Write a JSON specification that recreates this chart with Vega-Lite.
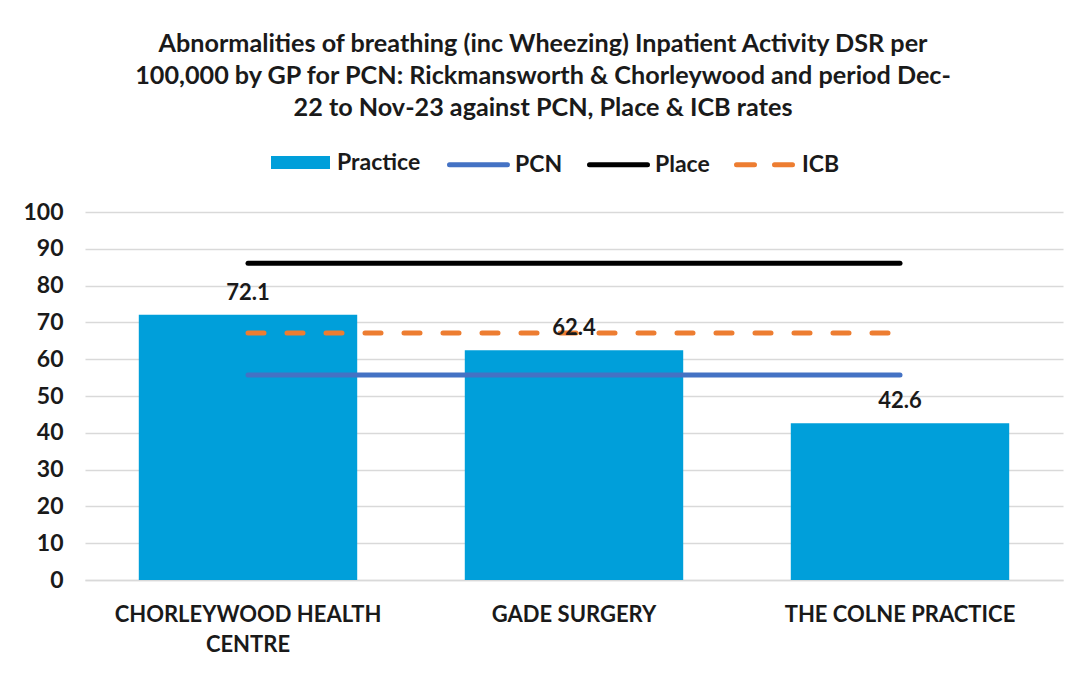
{
  "$schema": "https://vega.github.io/schema/vega-lite/v6.json",
  "autosize": "none",
  "width": 978,
  "height": 368,
  "padding": {"left": 85, "top": 212, "right": 26, "bottom": 94},
  "background": "white",
  "title": {
    "text": ["Abnormalities of breathing (inc Wheezing) Inpatient Activity DSR per", "100,000 by GP for PCN: Rickmansworth & Chorleywood and period Dec-", "22 to Nov-23 against PCN, Place & ICB rates"],
    "font": "Lato",
    "fontSize": 25.2,
    "fontWeight": "bold",
    "color": "#1a1a1a",
    "lineHeight": 32,
    "anchor": "middle",
    "frame": "group",
    "dx": -31,
    "offset": 12
  },
  "data": {
    "values": [
      {"practice": "CHORLEYWOOD HEALTH CENTRE", "series": "Practice", "value": 72.1},
      {"practice": "GADE SURGERY", "series": "Practice", "value": 62.4},
      {"practice": "THE COLNE PRACTICE", "series": "Practice", "value": 42.6},
      {"practice": "CHORLEYWOOD HEALTH CENTRE", "series": "PCN", "value": 55.7},
      {"practice": "GADE SURGERY", "series": "PCN", "value": 55.7},
      {"practice": "THE COLNE PRACTICE", "series": "PCN", "value": 55.7},
      {"practice": "CHORLEYWOOD HEALTH CENTRE", "series": "Place", "value": 86.1},
      {"practice": "GADE SURGERY", "series": "Place", "value": 86.1},
      {"practice": "THE COLNE PRACTICE", "series": "Place", "value": 86.1},
      {"practice": "CHORLEYWOOD HEALTH CENTRE", "series": "ICB", "value": 67.1},
      {"practice": "GADE SURGERY", "series": "ICB", "value": 67.1},
      {"practice": "THE COLNE PRACTICE", "series": "ICB", "value": 67.1}
    ]
  },
  "config": {
    "view": {"stroke": null},
    "font": "Lato",
    "axis": {"labelFont": "Lato", "labelFontWeight": "bold", "labelFontSize": 22, "labelColor": "#1a1a1a", "labelLimit": 400}
  },
  "encoding": {
    "x": {
      "field": "practice", "type": "nominal", "sort": null,
      "scale": {"paddingInner": 0.33, "paddingOuter": 0.165},
      "axis": {
        "title": null, "labelAngle": 0, "ticks": false, "domainColor": "#D9D9D9", "domainWidth": 1.5,
        "labelPadding": 24, "labelLineHeight": 30, "labelBaseline": "top",
        "labelExpr": "datum.label == 'CHORLEYWOOD HEALTH CENTRE' ? ['CHORLEYWOOD HEALTH', 'CENTRE'] : datum.label"
      }
    },
    "y": {
      "field": "value", "type": "quantitative",
      "scale": {"domain": [0, 100]},
      "axis": {"title": null, "values": [0, 10, 20, 30, 40, 50, 60, 70, 80, 90, 100], "ticks": false, "domain": false, "gridColor": "#D9D9D9", "gridWidth": 1.5, "labelPadding": 22, "labelOverlap": false, "labelFontSize": 23}
    }
  },
  "layer": [
    {
      "transform": [{"filter": "datum.series === 'Practice'"}],
      "mark": {"type": "bar"},
      "encoding": {
        "fill": {
          "field": "series", "type": "nominal",
          "scale": {"domain": ["Practice"], "range": ["#009FDA"]},
          "legend": {
            "title": null, "orient": "none", "direction": "horizontal",
            "legendX": 186, "legendY": -79,
            "symbolType": "M-1,-0.2167H1V0.2167H-1Z", "symbolSize": 3481, "symbolStrokeWidth": 0,
            "labelFont": "Lato", "labelFontSize": 23, "labelFontWeight": "bold", "labelColor": "#1a1a1a",
            "labelOffset": 7
          }
        }
      }
    },
    {
      "transform": [{"filter": "datum.series !== 'Practice'"}],
      "encoding": {
        "stroke": {
          "field": "series", "type": "nominal",
          "scale": {"domain": ["PCN", "Place", "ICB"], "range": ["#4472C4", "#000000", "#ED7D31"]},
          "legend": {
            "title": null, "orient": "none", "direction": "horizontal",
            "legendX": 362, "legendY": -79,
            "symbolType": "stroke", "symbolSize": 3364, "symbolStrokeWidth": 5,
            "labelFont": "Lato", "labelFontSize": 23, "labelFontWeight": "bold", "labelColor": "#1a1a1a",
            "labelOffset": 5, "columnPadding": 16,
            "encode": {
              "symbols": {
                "update": {
                  "strokeDash": {"signal": "datum.value === 'ICB' ? [18, 20] : [1, 0]"},
                  "strokeCap": {"value": "round"}
                }
              }
            }
          }
        }
      },
      "layer": [
        {
          "transform": [{"filter": "datum.series === 'PCN' || datum.series === 'Place'"}],
          "mark": {"type": "line", "strokeWidth": 5, "strokeCap": "round"}
        },
        {
          "transform": [{"filter": "datum.series === 'ICB'"}],
          "mark": {"type": "line", "strokeWidth": 5, "strokeCap": "round", "strokeDash": [16, 23]}
        }
      ]
    },
    {
      "transform": [{"filter": "datum.series === 'Practice'"}],
      "mark": {"type": "text", "font": "Lato", "fontSize": 22, "fontWeight": "bold", "color": "#1a1a1a", "baseline": "middle", "dy": -22},
      "encoding": {
        "text": {"field": "value", "type": "quantitative", "format": ".1f"}
      }
    }
  ]
}
